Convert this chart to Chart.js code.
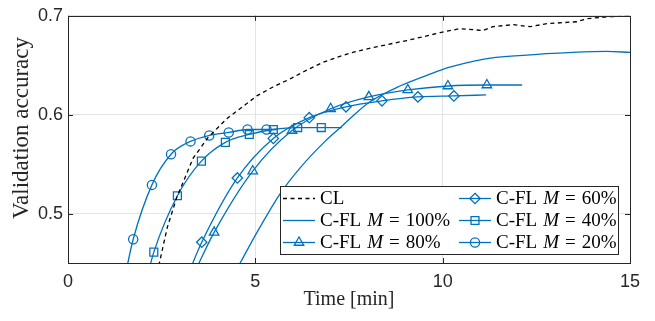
<!DOCTYPE html>
<html>
<head>
<meta charset="utf-8">
<script src="https://cdn.jsdelivr.net/npm/chart.js@4/dist/chart.umd.min.js"></script>
<style>
  html, body { margin: 0; padding: 0; background: #ffffff; }
  #wrap { width: 655px; height: 321px; }
</style>
</head>
<body>
<div id="wrap"><canvas id="c" width="655" height="321"></canvas></div>
<script>
// ---- data ----
const xTicks = [0, 5, 10, 15];
const yTicks = [0.5, 0.6, 0.7];
const xTitle = 'Time [min]';
const yTitle = 'Validation accuracy';

const cl_x = [2.38, 2.65, 2.9, 3.34, 3.74, 4.24, 4.59, 5.04, 5.47, 5.92, 6.37, 6.81, 7.26, 7.6, 8.15, 9.04, 9.5, 9.93, 10.46, 10.81, 11.07, 11.34, 11.88, 12.33, 12.78, 13.58, 13.85, 14.38, 15];
const cl_y = [0.44, 0.486, 0.516, 0.556, 0.577, 0.596, 0.606, 0.619, 0.628, 0.636, 0.645, 0.653, 0.659, 0.663, 0.668, 0.675, 0.679, 0.683, 0.687, 0.686, 0.685, 0.689, 0.691, 0.689, 0.692, 0.694, 0.697, 0.699, 0.700];

const m100_x = [4.45, 5.12, 5.66, 6.19, 6.86, 7.3, 7.61, 8.06, 8.86, 9.66, 10.19, 11.07, 12.14, 13.47, 14.38, 15];
const m100_y = [0.44, 0.486, 0.520, 0.546, 0.573, 0.588, 0.599, 0.613, 0.629, 0.641, 0.648, 0.656, 0.660, 0.663, 0.664, 0.663];

const m80_x = [3.37, 3.9, 4.93, 5.98, 7.01, 8.03, 9.07, 10.14, 11.18, 12.12];
const m80_y = [0.44, 0.481, 0.543, 0.584, 0.606, 0.618, 0.625, 0.629, 0.630, 0.630];

const m60_x = [3.22, 3.57, 4.52, 5.48, 6.44, 7.42, 8.38, 9.34, 10.30, 11.16];
const m60_y = [0.44, 0.471, 0.536, 0.576, 0.597, 0.608, 0.614, 0.618, 0.619, 0.620];

const m40_x = [2.14, 2.29, 2.92, 3.56, 4.20, 4.84, 5.48, 6.13, 6.76, 7.31];
const m40_y = [0.44, 0.461, 0.518, 0.553, 0.572, 0.580, 0.585, 0.587, 0.587, 0.587];

const m20_x = [1.54, 1.74, 2.24, 2.75, 3.27, 3.77, 4.29, 4.79, 5.30, 5.6];
const m20_y = [0.44, 0.474, 0.529, 0.560, 0.573, 0.579, 0.582, 0.585, 0.585, 0.585];

const seriesNames = ['CL', 'C-FL', 'C-FL', 'C-FL', 'C-FL', 'C-FL'];
const seriesM = [null, '100%', '80%', '60%', '40%', '20%'];

// ---- styling ----
const BLUE = '#0072BD';
const DARK = '#262626';
const SANS = '"Liberation Sans", Arial, sans-serif';
const SERIF = '"Liberation Serif", "Times New Roman", serif';

function pts(xs, ys) { return xs.map((x, i) => ({ x: x, y: ys[i] })); }
function markerRadii(n, r) { return Array.from({ length: n }, (_, i) => (i > 0 && i < n - 1) ? r : 0); }

function blueSeries(label, xs, ys, style, r) {
  return {
    label: label,
    data: pts(xs, ys),
    borderColor: BLUE,
    backgroundColor: 'rgba(0,0,0,0)',
    borderWidth: 1.3,
    pointStyle: style,
    pointRadius: style ? markerRadii(xs.length, r) : 0,
    pointBorderWidth: 1.3,
    pointBorderColor: BLUE,
    pointBackgroundColor: 'rgba(0,0,0,0)',
    pointHoverRadius: 0,
    cubicInterpolationMode: 'monotone',
    fill: false
  };
}

const datasets = [
  {
    label: 'CL', data: pts(cl_x, cl_y), borderColor: '#000000', borderWidth: 1.3,
    borderDash: [4, 3.5], pointRadius: 0, tension: 0, fill: false
  },
  blueSeries('M100', m100_x, m100_y, null, 0),
  blueSeries('M80', m80_x, m80_y, 'triangle', 5.5),
  blueSeries('M60', m60_x, m60_y, 'rectRot', 5.2),
  blueSeries('M40', m40_x, m40_y, 'rect', 5.6),
  blueSeries('M20', m20_x, m20_y, 'circle', 4.6)
];

// marker drawing for the legend
function drawMarker(ctx, style, x, y, r) {
  ctx.beginPath();
  if (style === 'circle') {
    ctx.arc(x, y, r, 0, Math.PI * 2);
  } else if (style === 'rect') {
    const h = r * Math.SQRT1_2;
    ctx.rect(x - h, y - h, 2 * h, 2 * h);
  } else if (style === 'rectRot') {
    ctx.moveTo(x, y - r); ctx.lineTo(x + r, y); ctx.lineTo(x, y + r); ctx.lineTo(x - r, y); ctx.closePath();
  } else if (style === 'triangle') {
    const a = r;
    ctx.moveTo(x, y - a);
    ctx.lineTo(x + a * Math.sin(Math.PI / 3), y + a * 0.5);
    ctx.lineTo(x - a * Math.sin(Math.PI / 3), y + a * 0.5);
    ctx.closePath();
  }
  ctx.stroke();
}

const framePlugin = {
  id: 'frame',
  afterDraw(chart) {
    const ctx = chart.ctx;
    const a = chart.chartArea;
    const xs = chart.scales.x, ys = chart.scales.y;
    ctx.save();
    // inner ticks
    ctx.strokeStyle = DARK;
    ctx.lineWidth = 1;
    const tl = 5;
    xTicks.forEach(v => {
      const px = Math.round(xs.getPixelForValue(v)) + 0.5;
      ctx.beginPath();
      ctx.moveTo(px, a.bottom); ctx.lineTo(px, a.bottom - tl);
      ctx.moveTo(px, a.top); ctx.lineTo(px, a.top + tl);
      ctx.stroke();
    });
    yTicks.forEach(v => {
      const py = Math.round(ys.getPixelForValue(v)) + 0.5;
      ctx.beginPath();
      ctx.moveTo(a.left, py); ctx.lineTo(a.left + tl, py);
      ctx.moveTo(a.right, py); ctx.lineTo(a.right - tl, py);
      ctx.stroke();
    });
    // box
    ctx.strokeRect(Math.round(a.left) + 0.5, Math.round(a.top) + 0.5,
      Math.round(a.right - a.left), Math.round(a.bottom - a.top));

    // y-axis title
    ctx.save();
    ctx.translate(22, 128);
    ctx.rotate(-Math.PI / 2);
    ctx.fillStyle = DARK;
    ctx.font = '23px ' + SERIF;
    ctx.textAlign = 'center';
    ctx.textBaseline = 'middle';
    ctx.fillText(yTitle, 0, 0);
    ctx.restore();

    // legend
    const bx = a.right - 12, by = a.bottom - 9;
    const L = bx - 338, T = by - 68;
    ctx.fillStyle = '#ffffff';
    ctx.fillRect(L, T, bx - L, by - T);
    ctx.strokeStyle = DARK;
    ctx.lineWidth = 1;
    ctx.strokeRect(Math.round(L) + 0.5, Math.round(T) + 0.5, Math.round(bx - L), Math.round(by - T));

    const rows = [T + 12, T + 34, T + 56];
    const cols = [L + 3, L + 179];
    const lineLen = 32;
    const fs = 19;
    chart.data.datasets.forEach((ds, i) => {
      const col = Math.floor(i / 3), row = i % 3;
      const x0 = cols[col], y0 = rows[row];
      ctx.save();
      ctx.strokeStyle = ds.borderColor;
      ctx.lineWidth = 1.3;
      if (ds.borderDash) ctx.setLineDash(ds.borderDash);
      ctx.beginPath();
      ctx.moveTo(x0, y0 + 0.5); ctx.lineTo(x0 + lineLen, y0 + 0.5);
      ctx.stroke();
      ctx.setLineDash([]);
      if (ds.pointStyle) {
        const r = Math.max.apply(null, ds.pointRadius);
        drawMarker(ctx, ds.pointStyle, x0 + lineLen / 2, y0 + 0.5, r);
      }
      ctx.restore();
      // text
      let tx = x0 + lineLen + 5;
      ctx.fillStyle = '#000000';
      ctx.textBaseline = 'middle';
      ctx.textAlign = 'left';
      ctx.font = fs + 'px ' + SERIF;
      const name = seriesNames[i];
      ctx.fillText(name, tx, y0 + 1);
      if (seriesM[i] !== null) {
        tx += ctx.measureText(name).width + 6;
        ctx.font = 'italic ' + fs + 'px ' + SERIF;
        ctx.fillText('M', tx, y0 + 1);
        tx += ctx.measureText('M').width + 6;
        ctx.font = fs + 'px ' + SERIF;
        ctx.fillText('=', tx, y0 + 1);
        tx += ctx.measureText('=').width + 6;
        ctx.fillText(seriesM[i], tx, y0 + 1);
      }
    });
    ctx.restore();
  }
};

new Chart(document.getElementById('c'), {
  type: 'line',
  data: { datasets: datasets },
  plugins: [framePlugin],
  options: {
    responsive: false,
    animation: false,
    events: [],
    layout: { padding: { top: 13, right: 25, left: 0, bottom: 0 } },
    plugins: { legend: { display: false }, tooltip: { enabled: false } },
    scales: {
      x: {
        type: 'linear', min: 0, max: 15,
        afterBuildTicks: s => { s.ticks = xTicks.map(v => ({ value: v })); },
        afterFit: s => { s.height = 58; },
        ticks: { color: DARK, font: { family: SANS, size: 18 }, padding: 8, maxRotation: 0 },
        grid: { color: '#e3e3e3', drawTicks: false, lineWidth: 1 },
        border: { display: false },
        title: { display: true, text: xTitle, color: DARK, font: { family: SERIF, size: 20 }, padding: { top: 0, bottom: 9 } }
      },
      y: {
        type: 'linear', min: 0.45, max: 0.7,
        afterBuildTicks: s => { s.ticks = yTicks.map(v => ({ value: v })); },
        afterFit: s => { s.width = 68; },
        ticks: { color: DARK, font: { family: SANS, size: 18 }, padding: 5, callback: v => v.toFixed(1) },
        grid: { color: '#e3e3e3', drawTicks: false, lineWidth: 1 },
        border: { display: false },
        title: { display: false }
      }
    }
  }
});
</script>
</body>
</html>
